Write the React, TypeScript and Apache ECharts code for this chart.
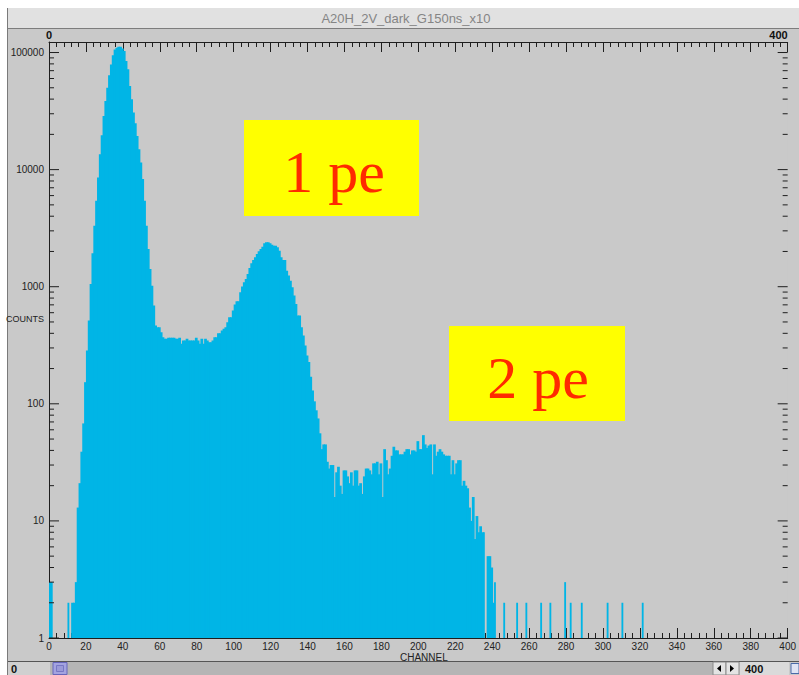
import React, { useEffect, useRef } from "react";
import * as echarts from "echarts";

// ---- data (counts per channel) ----
const TITLE = "A20H_2V_dark_G150ns_x10";
const X_LABEL = "CHANNEL";
const Y_LABEL = "COUNTS";
const X_MIN = 0;
const X_MAX = 400;
const X_STEP = 20;
const Y_MIN = 1;
const Y_MAX = 123000;

// channels 0..20 (low edge)
const lowStart = 0;
const lowCounts = [3, 3, 0, 0, 0, 0, 0, 0, 0, 0, 2, 0, 2, 2, 3, 13, 21, 39, 68, 153, 285];

// channels 21..57 (pedestal / first big peak)
const peakStart = 21;
const peakCounts = [
  514, 1057, 1928, 3320, 5420, 8570, 13550, 19700, 28700, 38500, 50000, 63900, 79200, 94600,
  106000, 110000, 112000, 112000, 108000, 103000, 84600, 71800, 51800, 39900, 30700, 24900,
  19400, 14900, 11500, 8300, 5420, 3320, 2100, 1420, 1020, 690, 466,
];

// channels 58..95 (valley)
const valleyStart = 58;
const valleyCounts = [
  451, 451, 408, 371, 359, 359, 366, 366, 366, 366, 359, 359, 366, 325, 347, 347, 359, 347, 347,
  347, 347, 366, 347, 325, 360, 325, 359, 347, 336, 336, 347, 371, 371, 401, 401, 422, 437, 451,
];

// channels 96..145 (1 pe peak)
const pe1Start = 96;
const pe1Counts = [
  497, 549, 549, 625, 704, 751, 751, 897, 1002, 1091, 1165, 1285, 1445, 1585, 1692, 1782, 1904,
  2006, 2100, 2198, 2346, 2395, 2395, 2346, 2286, 2240, 2240, 2170, 2031, 1782, 1692, 1692, 1372,
  1244, 1127, 988, 840, 713, 567, 567, 451, 383, 315, 259, 227, 170, 130, 105, 88, 75,
];

// channels 146..241 (2 pe region)
const pe2Start = 146;
const pe2Counts = [
  56, 41, 45, 45, 32, 28, 30, 30, 16, 26, 29, 20, 17, 27, 27, 24, 21, 26, 20, 27, 27, 20, 21, 17,
  24, 28, 28, 27, 25, 31, 31, 32, 25, 31, 16, 41, 33, 25, 28, 36, 43, 40, 40, 37, 37, 37, 39, 41,
  41, 37, 40, 40, 39, 48, 41, 41, 54, 45, 42, 44, 45, 25, 45, 36, 39, 41, 39, 37, 36, 36, 36, 25,
  33, 25, 31, 33, 33, 20, 22, 20, 19, 13, 10, 16, 7, 11, 8, 9, 8, 8, 0, 5, 5, 4, 2, 3,
];

// isolated tail channels
const tailChannels = [246, 253, 258, 266, 271, 279, 282, 288, 302, 310, 321];
const tailCounts = [2, 2, 2, 2, 2, 3, 2, 2, 2, 2, 2];

// labels
const label1 = "1 pe";
const label2 = "2 pe";

const FONT = "'Liberation Sans', Arial, sans-serif";

function buildBins(): number[][] {
  const out: number[][] = [];
  const add = (start: number, arr: number[]) =>
    arr.forEach((v, i) => {
      if (v > 0) out.push([start + i, v]);
    });
  add(lowStart, lowCounts);
  add(peakStart, peakCounts);
  add(valleyStart, valleyCounts);
  add(pe1Start, pe1Counts);
  add(pe2Start, pe2Counts);
  tailChannels.forEach((c, i) => out.push([c, tailCounts[i]]));
  return out;
}

function buildYTicks(): number[][] {
  const t: number[][] = [];
  for (let p = 1; p <= 100000; p *= 10) {
    for (let m = 1; m <= 9; m++) {
      const v = m * p;
      if (v <= Y_MAX) t.push([0, v]);
    }
  }
  return t;
}

const isPow10 = (v: number) => {
  const l = Math.log10(v);
  return Math.abs(l - Math.round(l)) < 1e-6;
};

export default function App() {
  const ref = useRef<HTMLDivElement>(null);

  useEffect(() => {
    if (!ref.current) return;
    const chart = echarts.init(ref.current, undefined, { renderer: "svg" });
    const bins = buildBins();
    const yTicks = buildYTicks();
    const axisColor = "#1e1e1e";
    const present = new Set(bins.map((b) => b[0]));

    const xAxisCommon = {
      type: "value",
      min: X_MIN,
      max: X_MAX,
      interval: X_STEP,
      axisLine: { show: true, lineStyle: { color: axisColor, width: 1 } },
      axisTick: { show: true, inside: true, length: 10, lineStyle: { color: axisColor } },
      minorTick: { show: true, splitNumber: 5, length: 5, lineStyle: { color: axisColor } },
      splitLine: { show: false },
      minorSplitLine: { show: false },
    };

    const option: any = {
      animation: false,
      backgroundColor: "#ffffff",
      grid: { left: 49, top: 42, width: 743, height: 596, backgroundColor: "#c9c9c9", show: true, borderWidth: 0 },
      xAxis: [
        {
          ...xAxisCommon,
          position: "bottom",
          axisLabel: { fontSize: 10, color: "#222", margin: 3, fontFamily: FONT },
        },
        {
          ...xAxisCommon,
          position: "top",
          axisLabel: {
            fontSize: 11,
            fontWeight: "bold",
            color: "#111",
            margin: 2,
            fontFamily: FONT,
            alignMaxLabel: "right",
            formatter: (v: number) => (v === X_MIN || v === X_MAX ? String(v) : ""),
          },
        },
      ],
      yAxis: [
        {
          type: "log",
          logBase: 10,
          min: Y_MIN,
          max: Y_MAX,
          position: "left",
          axisLine: { show: true, lineStyle: { color: "#555", type: [1, 1], width: 1 } },
          axisTick: { show: false },
          splitLine: { show: false },
          axisLabel: {
            fontSize: 10,
            color: "#222",
            margin: 5,
            fontFamily: FONT,
            formatter: (v: number) => (isPow10(v) ? String(Math.round(v)) : ""),
          },
        },
        {
          type: "log",
          logBase: 10,
          min: Y_MIN,
          max: Y_MAX,
          position: "right",
          axisLine: { show: true, lineStyle: { color: axisColor, width: 1 } },
          axisTick: { show: false },
          splitLine: { show: false },
          axisLabel: { show: false },
        },
      ],
      series: [
        {
          type: "custom",
          name: "counts",
          xAxisIndex: 0,
          yAxisIndex: 0,
          clip: true,
          data: bins,
          renderItem: (_p: any, api: any) => {
            const ch = api.value(0);
            const v = api.value(1);
            const top = api.coord([ch, v]);
            const bot = api.coord([ch + 1, Y_MIN]);
            // extend slightly into the next bin when it is filled, to avoid anti-aliasing seams
            const extra = present.has(ch + 1) ? 0.9 : 0;
            return {
              type: "rect",
              shape: { x: top[0], y: top[1], width: bot[0] - top[0] + extra, height: bot[1] - top[1] },
              style: { fill: "#00b5e6" },
            };
          },
        },
        {
          type: "custom",
          name: "yticks",
          xAxisIndex: 0,
          yAxisIndex: 0,
          clip: false,
          silent: true,
          data: yTicks,
          renderItem: (_p: any, api: any) => {
            const v = api.value(1);
            const l = api.coord([X_MIN, v]);
            const r = api.coord([X_MAX, v]);
            const len = isPow10(v) ? 10 : 5;
            return {
              type: "group",
              children: [
                {
                  type: "line",
                  shape: { x1: l[0], y1: l[1], x2: l[0] + len, y2: l[1] },
                  style: { stroke: axisColor, lineWidth: 1 },
                },
                {
                  type: "line",
                  shape: { x1: r[0], y1: r[1], x2: r[0] - len, y2: r[1] },
                  style: { stroke: axisColor, lineWidth: 1 },
                },
              ],
            };
          },
        },
      ],
      graphic: [
        // frame background
        { type: "rect", z: -10, shape: { x: 8, y: 8, width: 791, height: 667 }, style: { fill: "#c9c9c9" } },
        { type: "line", z: -9, shape: { x1: 7.5, y1: 8, x2: 7.5, y2: 675 }, style: { stroke: "#7a7a7a", lineWidth: 1 } },
        // title bar
        { type: "rect", z: -9, shape: { x: 8, y: 8, width: 791, height: 20 }, style: { fill: "#e1e1e1" } },
        { type: "line", z: -9, shape: { x1: 8, y1: 28.5, x2: 799, y2: 28.5 }, style: { stroke: "#7d7d7d", lineWidth: 1 } },
        {
          type: "text",
          x: 406,
          y: 18,
          style: { text: TITLE, fill: "#858585", font: `13px ${FONT}`, align: "center", verticalAlign: "middle" },
        },
        // axis names
        {
          type: "text",
          x: 44,
          y: 319,
          style: { text: Y_LABEL, fill: "#222", font: `9px ${FONT}`, align: "right", verticalAlign: "middle" },
        },
        {
          type: "text",
          x: 400,
          y: 657,
          style: { text: X_LABEL, fill: "#222", font: `10px ${FONT}`, align: "left", verticalAlign: "middle" },
        },
        // annotation boxes
        { type: "rect", z: 10, shape: { x: 244, y: 120, width: 175, height: 96 }, style: { fill: "#ffff00" } },
        {
          type: "text",
          z: 11,
          x: 334,
          y: 172,
          style: {
            text: label1,
            fill: "#ff2a00",
            font: `60px 'Liberation Serif', 'Times New Roman', serif`,
            align: "center",
            verticalAlign: "middle",
          },
        },
        { type: "rect", z: 10, shape: { x: 449, y: 326, width: 176, height: 95 }, style: { fill: "#ffff00" } },
        {
          type: "text",
          z: 11,
          x: 538,
          y: 378,
          style: {
            text: label2,
            fill: "#ff2a00",
            font: `60px 'Liberation Serif', 'Times New Roman', serif`,
            align: "center",
            verticalAlign: "middle",
          },
        },
        // bottom strip
        { type: "line", shape: { x1: 8, y1: 661.5, x2: 799, y2: 661.5 }, style: { stroke: "#555", lineWidth: 1 } },
        { type: "rect", shape: { x: 8, y: 662, width: 42, height: 13 }, style: { fill: "#d0d0d0" } },
        {
          type: "text",
          x: 11,
          y: 669,
          style: { text: "0", fill: "#111", font: `bold 11px ${FONT}`, align: "left", verticalAlign: "middle" },
        },
        { type: "rect", shape: { x: 50, y: 662, width: 663, height: 13 }, style: { fill: "#b5b5b5" } },
        { type: "rect", shape: { x: 53, y: 662.5, width: 14, height: 12 }, style: { fill: "#a3a3e0", stroke: "#6666bb", lineWidth: 1 } },
        { type: "rect", shape: { x: 56.5, y: 665.5, width: 7, height: 6 }, style: { fill: "#9a9ad8", stroke: "#7777c4", lineWidth: 1 } },
        { type: "rect", shape: { x: 713, y: 662, width: 13, height: 13 }, style: { fill: "#e4e4e4", stroke: "#8a8a8a", lineWidth: 1 } },
        { type: "polygon", shape: { points: [[717, 668.5], [721, 665], [721, 672]] }, style: { fill: "#000" } },
        { type: "rect", shape: { x: 726, y: 662, width: 13, height: 13 }, style: { fill: "#e4e4e4", stroke: "#8a8a8a", lineWidth: 1 } },
        { type: "polygon", shape: { points: [[734, 668.5], [730, 665], [730, 672]] }, style: { fill: "#000" } },
        { type: "rect", shape: { x: 740, y: 662, width: 49, height: 13 }, style: { fill: "#dadada" } },
        {
          type: "text",
          x: 745,
          y: 669,
          style: { text: "400", fill: "#111", font: `bold 11px ${FONT}`, align: "left", verticalAlign: "middle" },
        },
        { type: "rect", shape: { x: 791, y: 663.5, width: 8, height: 10 }, style: { fill: "#dfe4f4", stroke: "#4a6aa8", lineWidth: 1 } },
      ],
    };

    chart.setOption(option);
    return () => chart.dispose();
  }, []);

  return (
    <div
      ref={ref}
      style={{ position: "absolute", left: 0, top: 0, width: 799, height: 675, overflow: "hidden" }}
    />
  );
}
